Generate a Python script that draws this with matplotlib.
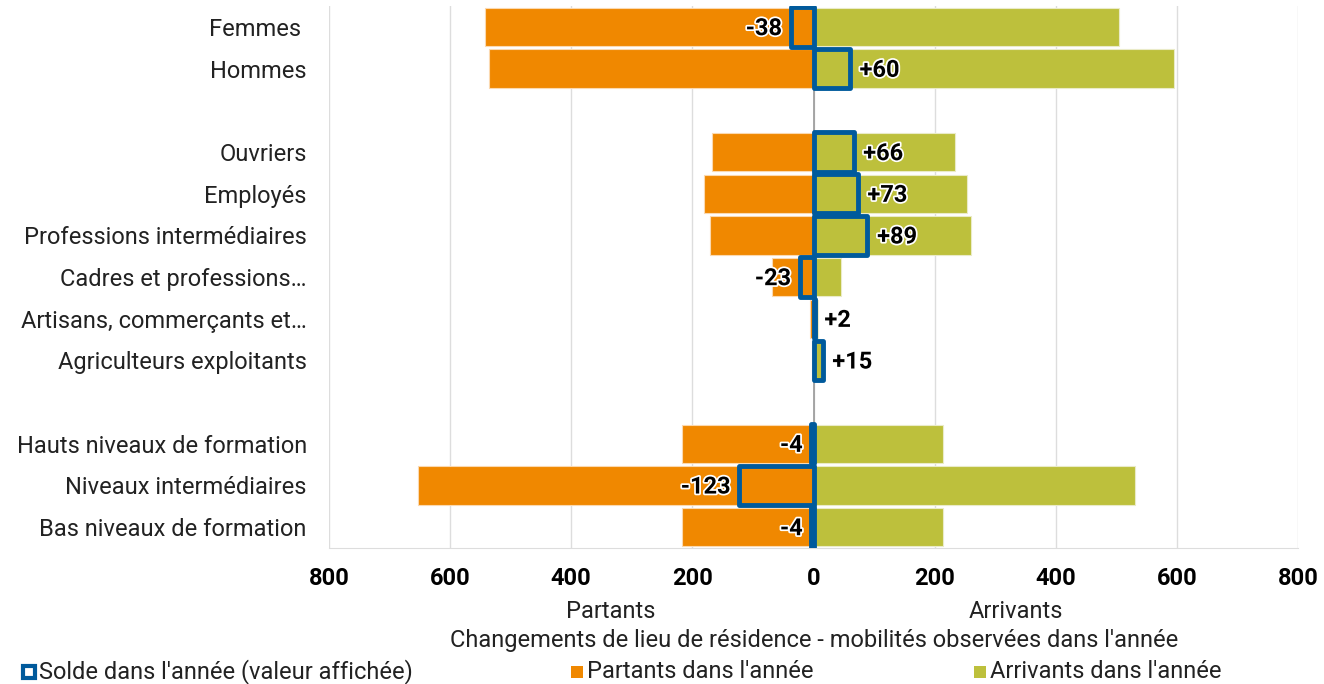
import matplotlib.pyplot as plt
import matplotlib.patheffects as pe
from matplotlib.patches import Rectangle
import numpy as np

plt.rcParams['font.family'] = ['Roboto', 'DejaVu Sans']

# Données
categories = ["Femmes ", "Hommes", "",
              "Ouvriers", "Employés", "Professions intermédiaires",
              "Cadres et professions…", "Artisans, commerçants et…",
              "Agriculteurs exploitants", "",
              "Hauts niveaux de formation", "Niveaux intermédiaires",
              "Bas niveaux de formation"]
partants = [543, 536, None, 167, 181, 171, 69, 6, 2, None, 217, 653, 217]
arrivants = [505, 596, None, 233, 254, 260, 46, 8, 17, None, 213, 530, 213]
solde = [-38, 60, None, 66, 73, 89, -23, 2, 15, None, -4, -123, -4]

orange = '#F08800'
vert = '#BDC03C'
bleu = '#005A9C'

fig = plt.figure(figsize=(13.24, 6.84), dpi=100)
ax = fig.add_axes([0.2485, 0.199, 0.7319, 0.792])

y = np.arange(len(categories))
outline = [pe.withStroke(linewidth=2.5, foreground='white')]

for i in range(len(categories)):
    if partants[i] is None:
        continue
    ax.barh(y[i], -partants[i], height=0.92, color=orange, edgecolor='#FBD9B0', linewidth=0.8, zorder=2)
    ax.barh(y[i], arrivants[i], height=0.92, color=vert, edgecolor='#EAEBC8', linewidth=0.8, zorder=2)
    s = solde[i]
    # solde : rectangle vide bleu
    ax.add_patch(Rectangle((0, y[i] - 0.47), s, 0.94, fill=False, edgecolor=bleu,
                           linewidth=3.5, zorder=4, joinstyle='round'))
    txt = f"{s:+d}" if s > 0 else f"{s:d}"
    if s > 0:
        ax.text(s + 16, y[i] + 0.04, txt, ha='left', va='center', fontsize=17, fontweight='bold',
                color='black', zorder=5, path_effects=outline)
    else:
        ax.text(s - 14, y[i] + 0.04, txt, ha='right', va='center', fontsize=17, fontweight='bold',
                color='black', zorder=5, path_effects=outline)

ax.axvline(0, color='#999999', linewidth=1.2, zorder=3)

ax.set_xlim(-800, 800)
ax.set_ylim(len(categories) - 0.5, -0.5)
ax.set_xticks(np.arange(-800, 801, 200))
ax.set_xticklabels([str(abs(v)) for v in range(-800, 801, 200)], fontsize=17, fontweight='bold')
ax.set_yticks(y)
ax.set_yticklabels(categories, fontsize=17, color='#222222')
ax.tick_params(axis='y', length=0, pad=16)
ax.tick_params(axis='x', length=0, pad=14)
ax.grid(axis='x', color='#DDDDDD', linewidth=1, zorder=0)
ax.set_axisbelow(True)
for side in ['top', 'right', 'left']:
    ax.spines[side].set_visible(False)
ax.spines['bottom'].set_color('#DDDDDD')

fig.text(611 / 1324, 1 - 611 / 684, "Partants", ha='center', va='center', fontsize=17, color='#222222')
fig.text(1016 / 1324, 1 - 611 / 684, "Arrivants", ha='center', va='center', fontsize=17, color='#222222')
fig.text(814 / 1324, 1 - 640 / 684, "Changements de lieu de résidence - mobilités observées dans l'année",
         ha='center', va='center', fontsize=17, color='#222222')

# Légende
legend_items = [("Solde dans l'année (valeur affichée)", 23, None),
                ("Partants dans l'année", 571, orange),
                ("Arrivants dans l'année", 974, vert)]
for label, px, col in legend_items:
    x0 = px / 1324
    yc = 1 - 672 / 684
    w = 12 / 1324
    h = 12 / 684
    if col is None:
        fig.add_artist(Rectangle((x0, yc - h / 2), w, h, transform=fig.transFigure,
                                 facecolor='white', edgecolor=bleu, linewidth=3))
    else:
        fig.add_artist(Rectangle((x0, yc - h / 2), w, h, transform=fig.transFigure,
                                 facecolor=col, edgecolor='none'))
    fig.text(x0 + 16 / 1324, yc, label, ha='left', va='center', fontsize=17, color='#222222')

fig.savefig('out.png', dpi=100)
